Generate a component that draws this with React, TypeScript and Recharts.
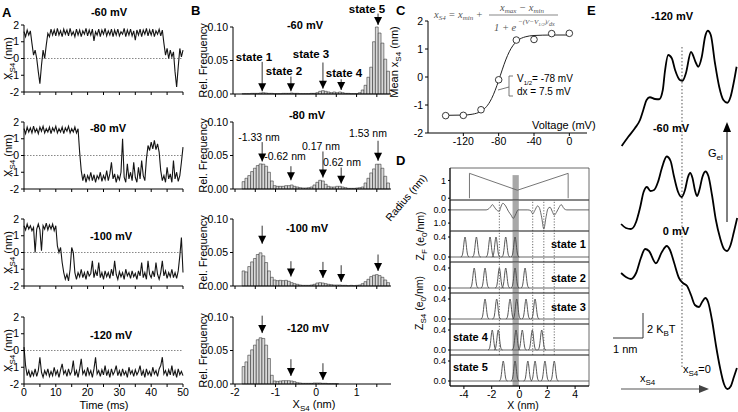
import React from "react";
import {
  LineChart,
  Line,
  BarChart,
  Bar,
  ComposedChart,
  Scatter,
  XAxis,
  YAxis,
  ReferenceLine,
  ReferenceDot,
  ReferenceArea,
} from "recharts";

const FONT = "'Liberation Sans', Arial, Helvetica, sans-serif";
const SERIF = "'Liberation Serif', 'Times New Roman', serif";

// ---------- A: S4 position traces, one sample every 0.5 ms
const SAMPLE_MS = 0.5;
const trace60 = [
  1.6, 1.3, 1.7, 1.4, 1.65, 0.9, 0.2, 0.5, 0.0, -0.8,
  -1.5, -0.4, 0.5, 0.0, 0.8, 1.5, 1.3, 1.75, 1.4, 1.7,
  1.35, 1.8, 1.4, 1.65, 1.3, 1.75, 1.45, 1.7, 1.35, 1.8,
  1.4, 1.6, 1.3, 1.75, 1.4, 1.7, 1.3, 1.65, 1.45, 1.8,
  1.35, 1.7, 1.4, 1.75, 1.05, 1.6, 1.4, 1.75, 1.3, 1.7,
  1.45, 1.8, 1.35, 1.65, 1.4, 1.75, 1.3, 1.7, 1.4, 1.75,
  1.35, 1.6, 1.45, 1.8, 1.3, 1.7, 1.4, 1.75, 1.35, 1.65,
  1.1, 1.7, 1.4, 1.75, 1.3, 1.7, 1.45, 1.8, 1.35, 1.7,
  1.4, 1.75, 1.3, 1.65, 1.45, 1.75, 1.35, 1.7, 0.9, 0.2,
  0.6, 0.0, 0.5, 0.1, 0.4, -0.8, -1.7, -0.5, 0.6, 0.1, 0.5,
];
const trace80 = [
  1.6, 1.3, 1.7, 1.4, 1.65, 1.35, 1.75, 1.4, 1.6, 1.3,
  1.7, 1.45, 1.75, 1.35, 1.6, 1.4, 1.7, 1.3, 1.65, 1.45,
  1.75, 1.35, 1.6, 1.4, 1.7, 1.3, 1.65, 1.45, 1.75, 1.35,
  1.6, 1.4, 1.7, 1.35, 1.6, 0.2, -0.9, -1.5, -1.1, -1.6,
  -1.2, -1.45, -1.0, -1.5, -1.15, -1.6, -1.2, -1.4, -1.0, -1.55,
  -1.2, -1.45, -0.9, -1.5, -1.1, -0.4, -1.4, -1.1, -1.6, -1.2,
  -1.45, -1.0, 1.0, -1.3, -1.6, -0.5, -1.4, -1.0, -1.5, -0.4,
  -1.3, -1.6, -0.7, -1.4, -0.3, -1.2, -1.5, -0.2, 0.6, 0.3,
  0.8, 0.4, 0.9, 0.35, 0.7, 0.2, -0.9, -1.5, -1.2, -1.6,
  -0.7, -1.4, -1.1, -1.6, -0.3, -1.4, -1.0, -1.55, -1.2, -0.4, 0.5,
];
const trace100 = [
  1.6, 1.35, 1.7, 1.4, 1.6, 1.3, 1.5, 0.0, 1.4, 1.7,
  1.35, 0.1, 1.6, 1.4, 1.75, 1.35, 1.65, 1.4, 1.7, 1.3,
  1.6, 0.4, 0.0, 0.3, -0.6, -1.2, -1.6, -1.3, -1.7, -1.0,
  0.3, 0.0, -1.2, -1.6, -1.2, -1.45, -1.0, -1.5, -1.2, -1.6,
  -1.1, -1.4, -1.25, -0.5, -1.5, -1.1, -1.4, -0.6, -1.5, -1.2,
  -1.6, -1.1, -1.45, -1.2, -1.55, -1.0, -1.4, -0.5, -1.3, -1.6,
  -1.15, -1.45, -1.2, -1.6, -1.0, -1.4, -1.2, -1.55, -1.1, -1.45,
  -1.25, -1.6, -1.1, -1.4, -0.6, -1.5, -1.2, -1.6, -0.5, -1.3,
  -1.5, -1.1, -1.45, -0.6, -1.3, -1.6, -1.2, -0.5, -1.4, -1.1,
  -1.55, -1.2, -1.45, -1.0, -1.5, -1.2, -1.55, -1.1, -0.2, 0.9, -1.2,
];
const trace120 = [
  0.2, -0.9, -1.5, -1.2, -1.6, -1.25, -1.5, -1.1, -1.55, -1.2,
  -0.4, -1.3, -1.6, -1.2, -1.45, -1.1, -1.55, -1.25, -1.5, -1.0,
  -1.45, -1.2, -1.6, -1.15, -0.8, -1.4, -1.2, -1.55, -1.1, -1.45,
  -1.25, -0.6, -1.5, -1.2, -1.6, -1.1, -0.5, -1.4, -1.2, -1.55,
  -1.0, -1.45, -1.2, -1.6, -1.1, -0.4, -1.4, -1.2, -1.55, -1.15,
  -1.45, -0.9, -1.5, -1.2, -1.6, -1.1, -1.45, -1.25, -0.9, -1.5,
  -1.2, -1.55, -1.1, -1.45, -1.25, -1.6, -1.0, -1.4, -1.2, -1.55,
  -1.15, -1.45, -1.25, -0.9, -1.5, -1.2, -1.6, -1.1, -1.45, -1.25,
  -1.55, -1.0, -1.4, -1.2, -1.55, -1.1, -0.9, -0.4, -1.4, -1.2,
  -1.55, -1.15, -1.45, -0.9, -1.5, -1.2, -1.6, -1.1, -1.45, -1.25, -1.5,
];
const timeTicks = [0, 5, 10, 15, 20, 25, 30, 35, 40, 45, 50];
const posTicks = [-2, -1, 0, 1, 2];
const voltageLabels = ["-60 mV", "-80 mV", "-100 mV", "-120 mV"];

// ---------- B: histograms of x_S4
const binCenters = [
  -1.79, -1.72, -1.65, -1.58, -1.51, -1.44, -1.37, -1.3, -1.23, -1.16,
  -1.09, -1.02, -0.95, -0.88, -0.81, -0.74, -0.67, -0.6, -0.53, -0.46,
  -0.39, -0.32, -0.25, -0.18, -0.11, -0.04, 0.03, 0.1, 0.17, 0.24,
  0.31, 0.38, 0.45, 0.52, 0.59, 0.66, 0.73, 0.8, 0.87, 0.94,
  1.01, 1.08, 1.15, 1.22, 1.29, 1.36, 1.43, 1.5, 1.57, 1.64,
  1.71, 1.78,
];
const hist60 = [
  0.0005, 0.0005, 0.0005, 0.001, 0.001, 0.001, 0.0015, 0.002, 0.0015, 0.001,
  0.001, 0.0005, 0.0005, 0.0005, 0.001, 0.001, 0.001, 0.0015, 0.001, 0.001,
  0.0005, 0.0005, 0.0005, 0.0005, 0.001, 0.001, 0.002, 0.004, 0.005, 0.004,
  0.003, 0.002, 0.003, 0.002, 0.003, 0.002, 0.001, 0.001, 0.0005, 0.0005,
  0.0005, 0.002, 0.006, 0.013, 0.025, 0.04, 0.078, 0.1, 0.091, 0.076,
  0.052, 0.034,
];
const hist80 = [
  0.011, 0.016, 0.02, 0.026, 0.031, 0.035, 0.0375, 0.037, 0.034, 0.025,
  0.012, 0.005, 0.004, 0.004, 0.004, 0.005, 0.005, 0.006, 0.004, 0.003,
  0.002, 0.0015, 0.0015, 0.002, 0.003, 0.006, 0.01, 0.013, 0.012, 0.007,
  0.004, 0.003, 0.003, 0.004, 0.004, 0.003, 0.002, 0.001, 0.001, 0.001,
  0.0015, 0.002, 0.003, 0.009, 0.016, 0.024, 0.03, 0.037, 0.037, 0.031,
  0.019, 0.009,
];
const hist100 = [
  0.0225, 0.021, 0.029, 0.036, 0.041, 0.047, 0.0495, 0.045, 0.035, 0.0225,
  0.013, 0.009, 0.008, 0.0085, 0.008, 0.0085, 0.007, 0.005, 0.0035, 0.0025,
  0.0015, 0.001, 0.001, 0.001, 0.0015, 0.0025, 0.0045, 0.005, 0.0045, 0.0035,
  0.0025, 0.002, 0.0015, 0.0015, 0.0015, 0.001, 0.001, 0.0005, 0.001, 0.0005,
  0.001, 0.0015, 0.0035, 0.0065, 0.01, 0.014, 0.016, 0.017, 0.0155, 0.013,
  0.009, 0.005,
];
const hist120 = [
  0.026, 0.033, 0.043, 0.051, 0.058, 0.066, 0.069, 0.068, 0.058, 0.038,
  0.013, 0.0045, 0.004, 0.0045, 0.005, 0.005, 0.005, 0.0045, 0.0035, 0.002,
  0.0015, 0.001, 0.001, 0.001, 0.001, 0.0015, 0.0015, 0.0015, 0.001, 0.001,
  0.0005, 0.0005, 0.0005, 0.0005, 0, 0, 0, 0, 0, 0,
  0, 0, 0, 0, 0, 0, 0, 0, 0, 0,
  0, 0,
];
const histTicks = [-2, -1.5, -1, -0.5, 0, 0.5, 1, 1.5];
const freqTicks = [0, 0.05, 0.1];

// arrows: x in nm, tip / top in relative frequency
const arrows60 = [
  { x: -1.33, tip: 0.004, top: 0.048 },
  { x: -0.62, tip: 0.004, top: 0.026 },
  { x: 0.17, tip: 0.008, top: 0.047 },
  { x: 0.62, tip: 0.006, top: 0.022 },
  { x: 1.53, tip: 0.103, top: 0.12 },
];
const arrows80 = [
  { x: -1.33, tip: 0.041, top: 0.07 },
  { x: -0.62, tip: 0.013, top: 0.034 },
  { x: 0.17, tip: 0.017, top: 0.056 },
  { x: 0.62, tip: 0.008, top: 0.032 },
  { x: 1.53, tip: 0.042, top: 0.072 },
];
const arrows100 = [
  { x: -1.33, tip: 0.063, top: 0.09 },
  { x: -0.62, tip: 0.014, top: 0.037 },
  { x: 0.17, tip: 0.012, top: 0.036 },
  { x: 0.62, tip: 0.006, top: 0.031 },
  { x: 1.53, tip: 0.0225, top: 0.047 },
];
const arrows120 = [
  { x: -1.33, tip: 0.076, top: 0.102 },
  { x: -0.62, tip: 0.012, top: 0.037 },
  { x: 0.17, tip: 0.006, top: 0.031 },
];
const stateLabels = ["state 1", "state 2", "state 3", "state 4", "state 5"];
const peakLabels = ["-1.33 nm", "-0.62 nm", "0.17 nm", "0.62 nm", "1.53 nm"];

// ---------- C: mean x_S4 vs voltage
const voltages = [-140, -120, -100, -80, -60, -40, -20, 0];
const meanPos = [-1.38, -1.37, -1.17, -0.1, 1.32, 1.34, 1.55, 1.56];
const fitV = [-140, -120, -110, -100, -95, -90, -86, -82, -78, -74, -70, -66, -62, -58, -50, -40, -20, 0];
const fitPos = [-1.369, -1.359, -1.33, -1.224, -1.1, -0.888, -0.634, -0.307, 0.065, 0.438, 0.765, 1.018, 1.195, 1.313, 1.433, 1.482, 1.499, 1.5];
const voltTicks = [-120, -80, -40, 0];

// ---------- D: pore radius, gating charge and S4 charge distributions
const radiusX = [-3.6, -3.6, -0.15, 3.5, 3.5];
const radiusR = [0, 1.4, 0.45, 1.4, 0];
const zfX = [-5, -2.4, -2.1, -1.95, -1.8, -1.6, -1.45, -1.35, -1.2, -1.0, -0.8, -0.6, -0.45, -0.3, -0.1, 0.6, 0.8, 0.95, 1.1, 1.3, 1.45, 1.6, 1.75, 1.9, 2.05, 2.2, 2.35, 2.5, 2.65, 2.85, 3.0, 3.2, 3.4, 5];
const zfZ = [0, 0, -0.2, -0.4, -0.2, 0.05, 0.1, -0.2, -0.5, -0.3, 0.1, 0.4, 0.65, 0.4, 0, 0, 0.05, 0.3, 0.05, -0.3, -0.1, 0.6, 1.45, 0.6, -0.1, -0.2, 0.1, 0.4, 0.2, -0.2, -0.4, -0.1, 0, 0];
const PEAK_HEIGHT = 0.4;
const peakOffsets = [-0.3, -0.22, -0.16, -0.11, -0.06, 0, 0.06, 0.11, 0.16, 0.22, 0.3];
const peakShape = [0, 0.05, 0.2, 0.47, 0.8, 1, 0.8, 0.47, 0.2, 0.05, 0];
const statePeaks = [
  [-3.92, -3.1, -2.12, -1.69, -0.99, -0.32],
  [-3.26, -2.48, -1.45, -0.99, -0.32, 0.4],
  [-2.48, -1.64, -0.68, -0.2, 0.47, 1.12],
  [-1.96, -1.53, -0.25, 0.2, 0.92, 1.6],
  [-1.17, -0.32, 0.6, 1.12, 1.83, 2.5],
];
const dottedX = [-1.45, 0.95, 1.75, 2.5];
const dTicks = [-4, -2, 0, 2, 4];

// ---------- E: electrostatic energy profiles (x in nm, G in kBT)
const profile120 = [
  [-2.01, 21.28], [-1.79, 22.02], [-1.57, 22.7], [-1.4, 23.36], [-1.29, 24.16], [-1.18, 24.96],
  [-1.07, 25.18], [-0.9, 25.04], [-0.76, 25.02], [-0.64, 25.76], [-0.57, 27.22], [-0.46, 28.56],
  [-0.34, 28.3], [-0.23, 27.36], [-0.07, 26.56], [0.02, 26.5], [0.13, 27.1], [0.3, 28.8],
  [0.47, 27.9], [0.54, 27.62], [0.66, 28.42], [0.77, 30.02], [0.86, 30.5], [0.96, 30.16],
  [1.1, 27.9], [1.24, 26.02], [1.38, 24.96], [1.51, 24.74], [1.62, 25.22], [1.73, 26.42], [1.82, 27.62],
];
const profile60 = [
  [-2.03, 15.04], [-1.87, 14.72], [-1.7, 14.64], [-1.53, 15.2], [-1.4, 16.32], [-1.28, 17.6],
  [-1.17, 18.0], [-1.05, 17.68], [-0.93, 17.76], [-0.8, 18.4], [-0.67, 19.52], [-0.51, 20.44],
  [-0.38, 20.08], [-0.27, 18.88], [-0.13, 17.6], [-0.01, 17.2], [0.1, 17.76], [0.2, 18.8],
  [0.27, 19.12], [0.35, 18.72], [0.43, 17.76], [0.5, 17.28], [0.58, 17.76], [0.68, 18.8],
  [0.78, 19.24], [0.88, 18.88], [1.0, 17.36], [1.13, 15.36], [1.27, 13.92], [1.4, 13.04],
  [1.5, 12.88], [1.62, 13.36], [1.73, 14.4], [1.84, 15.52],
];
const profile0 = [
  [-2.03, 11.12], [-1.87, 10.8], [-1.7, 10.64], [-1.53, 11.12], [-1.37, 12.32], [-1.23, 13.04],
  [-1.1, 12.88], [-0.87, 11.9], [-0.67, 12.8], [-0.51, 13.28], [-0.4, 12.96], [-0.27, 12.0],
  [-0.1, 10.72], [0.03, 10.32], [0.17, 10.08], [0.3, 9.36], [0.43, 8.56], [0.57, 8.4],
  [0.67, 8.8], [0.78, 9.12], [0.87, 8.8], [1.0, 7.36], [1.13, 5.36], [1.27, 3.52],
  [1.4, 2.24], [1.52, 1.84], [1.63, 2.08], [1.73, 2.8], [1.83, 3.52],
];

const tick = { fontSize: 10.5, fill: "#000" };

const arrowHead = (p: any) => (
  <path d={`M${p.cx - 4},${p.cy - 8}L${p.cx + 4},${p.cy - 8}L${p.cx},${p.cy}Z`} fill="#000" />
);

const openCircle = (p: any) => (
  <circle cx={p.cx} cy={p.cy} r={3.3} fill="#fff" stroke="#222" strokeWidth={0.9} />
);

function tracePanel(values: number[], top: number, last: boolean) {
  const data = values.map((v, i) => ({ t: i * SAMPLE_MS, v }));
  return (
    <div key={"a" + top} style={{ position: "absolute", left: 0, top: top - 5 }}>
      <LineChart width={190} height={92} data={data} margin={{ top: 5, right: 7, bottom: 0, left: 0 }}>
        <XAxis
          type="number"
          dataKey="t"
          domain={[0, 50]}
          ticks={timeTicks}
          interval={0}
          height={20}
          tickSize={3}
          stroke="#000"
          tick={tick}
          tickFormatter={(t: number) => (last && t % 10 === 0 ? String(t) : "")}
        />
        <YAxis type="number" domain={[-2, 2]} ticks={posTicks} interval={0} width={24} tickSize={3} stroke="#000" tick={tick} />
        <ReferenceLine y={0} stroke="#555" strokeDasharray="1.5 1.5" strokeWidth={0.7} />
        <Line type="linear" dataKey="v" stroke="#151515" strokeWidth={1.1} dot={false} isAnimationActive={false} />
      </LineChart>
    </div>
  );
}

function histPanel(values: number[], arrows: { x: number; tip: number; top: number }[], top: number, last: boolean) {
  const data = binCenters.map((x, i) => ({ x, f: values[i] }));
  return (
    <div key={"b" + top} style={{ position: "absolute", left: 193, top: top - 5 }}>
      <BarChart width={200} height={92} data={data} margin={{ top: 5, right: 2, bottom: 0, left: 0 }}>
        <XAxis
          type="number"
          dataKey="x"
          domain={[-2.05, 1.85]}
          ticks={histTicks}
          interval={0}
          height={20}
          tickSize={3}
          stroke="#000"
          tick={tick}
          allowDataOverflow
          tickFormatter={(v: number) => (last && Number.isInteger(v) ? String(v) : "")}
        />
        <YAxis
          type="number"
          domain={[0, 0.1]}
          ticks={freqTicks}
          interval={0}
          width={40}
          tickSize={3}
          stroke="#000"
          tick={tick}
          tickFormatter={(v: number) => v.toFixed(2)}
        />
        <Bar dataKey="f" barSize={2.8} fill="#d9d9d9" stroke="#1a1a1a" strokeWidth={0.5} isAnimationActive={false} />
        {arrows.map((a, i) => (
          <ReferenceLine
            key={"s" + i}
            segment={[{ x: a.x, y: a.top }, { x: a.x, y: a.tip }]}
            stroke="#000"
            strokeWidth={0.8}
            ifOverflow="visible"
          />
        ))}
        {arrows.map((a, i) => (
          <ReferenceDot key={"h" + i} x={a.x} y={a.tip} r={4} ifOverflow="visible" shape={arrowHead} />
        ))}
      </BarChart>
    </div>
  );
}

function strip(o: {
  top: number;
  h: number;
  domain: [number, number];
  ticks: number[];
  fmt: (v: number) => string;
  reversed?: boolean;
  band: [number, number];
  dotted: boolean;
  last?: boolean;
  lines: React.ReactNode[];
}) {
  const xh = o.last ? 20 : 0;
  return (
    <div key={"d" + o.top} style={{ position: "absolute", left: 420, top: o.top }}>
      <LineChart width={172} height={o.h + xh} margin={{ top: 0, right: 3, bottom: 0, left: 0 }}>
        <XAxis
          type="number"
          dataKey="x"
          domain={[-5, 5]}
          ticks={dTicks}
          interval={0}
          hide={!o.last}
          height={xh}
          tickSize={3}
          stroke="#000"
          tick={tick}
          allowDataOverflow
        />
        <YAxis
          type="number"
          domain={o.domain}
          reversed={o.reversed}
          ticks={o.ticks}
          interval={0}
          width={30}
          tickSize={2}
          stroke="#000"
          tick={{ fontSize: 9, fill: "#000" }}
          tickFormatter={o.fmt}
          allowDataOverflow
        />
        <ReferenceArea x1={-0.5} x2={-0.05} y1={o.band[0]} y2={o.band[1]} fill="#a8a8a8" fillOpacity={1} stroke="none" />
        {o.dotted
          ? dottedX.map((x) => (
              <ReferenceLine key={"v" + x} x={x} stroke="#444" strokeDasharray="1.2 1.6" strokeWidth={0.8} />
            ))
          : null}
        <ReferenceArea x1={-5} x2={5} y1={o.domain[0]} y2={o.domain[1]} fill="none" stroke="#444" strokeWidth={0.8} />
        {o.lines}
      </LineChart>
    </div>
  );
}

function stateLines(centers: number[]) {
  const lines: React.ReactNode[] = [
    <Line
      key="base"
      data={[{ x: -5, z: 0 }, { x: 5, z: 0 }]}
      dataKey="z"
      type="linear"
      stroke="#555"
      strokeWidth={0.9}
      dot={false}
      isAnimationActive={false}
    />,
  ];
  centers.forEach((c, i) => {
    lines.push(
      <Line
        key={"p" + i}
        data={peakOffsets.map((dx, j) => ({ x: c + dx, z: peakShape[j] * PEAK_HEIGHT }))}
        dataKey="z"
        type="monotone"
        stroke="#444"
        strokeWidth={0.9}
        dot={false}
        isAnimationActive={false}
      />
    );
  });
  return lines;
}

export default function App() {
  const aTops = [25, 122, 219, 317];
  const bTops = [27, 122, 219, 317];
  const traces = [trace60, trace80, trace100, trace120];
  const hists = [hist60, hist80, hist100, hist120];
  const arrowSets = [arrows60, arrows80, arrows100, arrows120];

  const fitData = fitV.map((mv, i) => ({ mv, nm: fitPos[i] }));
  const meanData = voltages.map((mv, i) => ({ mv, nm: meanPos[i] }));

  const stateTops = [231, 262, 293, 324, 355];
  const stDomain: [number, number] = [-0.1, 0.52];
  const profiles = [profile120, profile60, profile0];

  return (
    <div style={{ position: "absolute", left: 0, top: 0, width: 738, height: 412, background: "#fff", fontFamily: FONT }}>
      <style>{"svg { overflow: visible; }"}</style>
      {traces.map((t, i) => tracePanel(t, aTops[i], i === 3))}
      {hists.map((h, i) => histPanel(h, arrowSets[i], bTops[i], i === 3))}

      {/* C: mean position vs voltage */}
      <div style={{ position: "absolute", left: 388, top: 16 }}>
        <ComposedChart width={204} height={137} margin={{ top: 5, right: 5, bottom: 0, left: 0 }}>
          <XAxis type="number" dataKey="mv" domain={[-160, 20]} ticks={voltTicks} interval={0} height={20} tickSize={3} stroke="#000" tick={tick} />
          <YAxis type="number" dataKey="nm" domain={[-2, 2]} ticks={posTicks} interval={0} width={40} tickSize={3} stroke="#000" tick={tick} />
          <Line data={fitData} dataKey="nm" type="monotone" stroke="#222" strokeWidth={1} dot={false} isAnimationActive={false} />
          <Scatter data={meanData} dataKey="nm" shape={openCircle} isAnimationActive={false} />
        </ComposedChart>
      </div>

      {/* D: strips */}
      {strip({
        top: 168,
        h: 32,
        domain: [-0.1, 1.7],
        ticks: [0, 1],
        fmt: (v) => String(v),
        band: [-0.1, 1.3],
        dotted: false,
        lines: [
          <Line
            key="r"
            data={radiusX.map((x, i) => ({ x, z: radiusR[i] }))}
            dataKey="z"
            type="linear"
            stroke="#666"
            strokeWidth={0.9}
            dot={false}
            isAnimationActive={false}
          />,
        ],
      })}
      {strip({
        top: 200,
        h: 31,
        domain: [-0.75, 1.6],
        reversed: true,
        ticks: [0, 1],
        fmt: (v) => v.toFixed(1),
        band: [-0.75, 1.6],
        dotted: true,
        lines: [
          <Line
            key="zf"
            data={zfX.map((x, i) => ({ x, z: zfZ[i] }))}
            dataKey="z"
            type="monotone"
            stroke="#555"
            strokeWidth={0.9}
            dot={false}
            isAnimationActive={false}
          />,
        ],
      })}
      {statePeaks.map((c, i) =>
        strip({
          top: stateTops[i],
          h: 31,
          domain: stDomain,
          ticks: [0, 0.4],
          fmt: (v) => v.toFixed(1),
          band: stDomain,
          dotted: i < 4,
          last: i === 4,
          lines: stateLines(c),
        })
      )}

      {/* E: energy profiles */}
      <div style={{ position: "absolute", left: 600, top: 0 }}>
        <LineChart width={138} height={412} margin={{ top: 0, right: 0, bottom: 0, left: 0 }}>
          <XAxis type="number" dataKey="x" domain={[-2.733, 1.867]} hide allowDataOverflow />
          <YAxis type="number" domain={[0, 32.96]} hide allowDataOverflow />
          <ReferenceLine
            segment={[{ x: 0, y: 29.2 }, { x: 0, y: 3.5 }]}
            stroke="#444"
            strokeDasharray="1.5 2"
            strokeWidth={0.9}
          />
          {profiles.map((p, i) => (
            <Line
              key={"e" + i}
              data={p.map(([x, g]) => ({ x, g }))}
              dataKey="g"
              type="monotone"
              stroke="#000"
              strokeWidth={1.8}
              dot={false}
              isAnimationActive={false}
            />
          ))}
        </LineChart>
      </div>

      {/* text and annotation layer */}
      <svg
        width={738}
        height={412}
        style={{ position: "absolute", left: 0, top: 0, pointerEvents: "none" }}
        fontFamily={FONT}
      >
        <g fontSize={13} fontWeight="bold">
          <text x={2} y={17}>A</text>
          <text x={191} y={15}>B</text>
          <text x={396} y={15}>C</text>
          <text x={396} y={165}>D</text>
          <text x={587} y={15}>E</text>
        </g>

        <g fontSize={11} fontWeight="bold" textAnchor="middle">
          {[[109, 16], [108, 132], [111, 240], [111, 339]].map(([x, y], i) => (
            <text key={"at" + i} x={x} y={y}>{voltageLabels[i]}</text>
          ))}
          {[[305, 29], [307, 119], [307, 232], [308, 332]].map(([x, y], i) => (
            <text key={"bt" + i} x={x} y={y}>{voltageLabels[i]}</text>
          ))}
          <text x={672} y={20}>-120 mV</text>
          <text x={671} y={132}>-60 mV</text>
          <text x={676} y={235}>0 mV</text>
        </g>

        {/* A and B axis titles */}
        <g fontSize={11} textAnchor="middle">
          {aTops.map((t) => (
            <text key={"ay" + t} transform={`translate(12,${t + 33.5}) rotate(-90)`}>
              X<tspan dy={3} fontSize={8}>S4</tspan>
              <tspan dy={-3}> (nm)</tspan>
            </text>
          ))}
          <text x={104} y={409}>Time (ms)</text>
          {bTops.map((t) => (
            <text key={"by" + t} transform={`translate(207,${t + 33.5}) rotate(-90)`}>
              Rel. Frequency
            </text>
          ))}
          <text x={314} y={408}>
            X<tspan dy={3} fontSize={8}>S4</tspan>
            <tspan dy={-3}> (nm)</tspan>
          </text>
        </g>

        {/* B arrow labels */}
        <g fontSize={11.5} fontWeight="bold" textAnchor="middle">
          {[[254, 61], [284, 75], [311, 58], [344, 77], [367, 13]].map(([x, y], i) => (
            <text key={"sl" + i} x={x} y={y}>{stateLabels[i]}</text>
          ))}
        </g>
        <g fontSize={10.5} textAnchor="middle">
          {[[259, 141], [285, 160], [321, 150], [342, 166], [368, 137]].map(([x, y], i) => (
            <text key={"pl" + i} x={x} y={y}>{peakLabels[i]}</text>
          ))}
        </g>

        {/* C annotations */}
        <g fontSize={11}>
          <text x={532} y={129}>Voltage (mV)</text>
          <text transform="translate(398,62) rotate(-90)" textAnchor="middle">
            Mean x<tspan dy={3} fontSize={8}>S4</tspan>
            <tspan dy={-3}> (nm)</tspan>
          </text>
        </g>
        <path d="M513,76 H509 V96 H513" fill="none" stroke="#555" strokeWidth={0.8} />
        <line x1={509} y1={87} x2={498} y2={90} stroke="#555" strokeWidth={0.8} />
        <g fontSize={10}>
          <text x={517} y={82}>
            V<tspan dy={3} fontSize={6}>1/2</tspan>
            <tspan dy={-3}>= -78 mV</tspan>
          </text>
          <text x={517} y={95}>dx = 7.5 mV</text>
        </g>
        <g fill="#555" fontFamily={SERIF} fontStyle="italic" fontSize={10.5}>
          <text x={434} y={18}>
            x<tspan dy={2} fontSize={7}>S4</tspan>
            <tspan dy={-2}> = x</tspan>
            <tspan dy={2} fontSize={7}>min</tspan>
            <tspan dy={-2}> + </tspan>
          </text>
          <text x={522} y={11} textAnchor="middle">
            x<tspan dy={2} fontSize={7}>max</tspan>
            <tspan dy={-2}> − x</tspan>
            <tspan dy={2} fontSize={7}>min</tspan>
          </text>
          <line x1={489} y1={15} x2={558} y2={15} stroke="#555" strokeWidth={0.7} />
          <text x={494} y={31}>1 + e</text>
          <text x={518} y={24} fontSize={7}>
            −(V−V<tspan dy={1.5} fontSize={5}>1/2</tspan>
            <tspan dy={-1.5}>)/</tspan>
            <tspan dy={2} fontSize={6}>dx</tspan>
          </text>
        </g>

        {/* D annotations */}
        <g fontSize={10.5}>
          <text transform="translate(409,200) rotate(-50)" textAnchor="middle">Radius (nm)</text>
          <text transform="translate(424,236) rotate(-90)" textAnchor="middle">
            Z<tspan dy={3} fontSize={8}>F</tspan>
            <tspan dy={-3}> (e</tspan>
            <tspan dy={3} fontSize={8}>0</tspan>
            <tspan dy={-3}>/nm)</tspan>
          </text>
          <text transform="translate(423,303) rotate(-90)" textAnchor="middle">
            Z<tspan dy={3} fontSize={8}>S4</tspan>
            <tspan dy={-3}> (e</tspan>
            <tspan dy={3} fontSize={8}>0</tspan>
            <tspan dy={-3}>/nm)</tspan>
          </text>
          <text x={523} y={409} textAnchor="middle">X (nm)</text>
        </g>
        <g fontSize={11} fontWeight="bold">
          {[[551, 248], [551, 282], [551, 311], [453, 341], [453, 371]].map(([x, y], i) => (
            <text key={"ds" + i} x={x} y={y}>{stateLabels[i]}</text>
          ))}
        </g>

        {/* E annotations */}
        <line x1={727} y1={222} x2={727} y2={131} stroke="#000" strokeWidth={1} />
        <path d="M723,132 L731,132 L727,122 Z" fill="#000" />
        <path d="M643,313 V338 H613" fill="none" stroke="#333" strokeWidth={1} />
        <line x1={621} y1={389} x2={700} y2={389} stroke="#555" strokeWidth={1.2} />
        <path d="M699,385 L709,389 L699,393 Z" fill="#444" />
        <g fontSize={11}>
          <text x={708} y={157}>
            G<tspan dy={3} fontSize={8}>el</tspan>
          </text>
          <text x={647} y={333}>
            2 K<tspan dy={3} fontSize={8}>B</tspan>
            <tspan dy={-3}>T</tspan>
          </text>
          <text x={613} y={353}>1 nm</text>
          <text x={683} y={373}>
            x<tspan dy={3} fontSize={8}>S4</tspan>
            <tspan dy={-3}>=0</tspan>
          </text>
          <text x={640} y={382}>
            x<tspan dy={3} fontSize={8}>S4</tspan>
          </text>
        </g>
      </svg>
    </div>
  );
}
